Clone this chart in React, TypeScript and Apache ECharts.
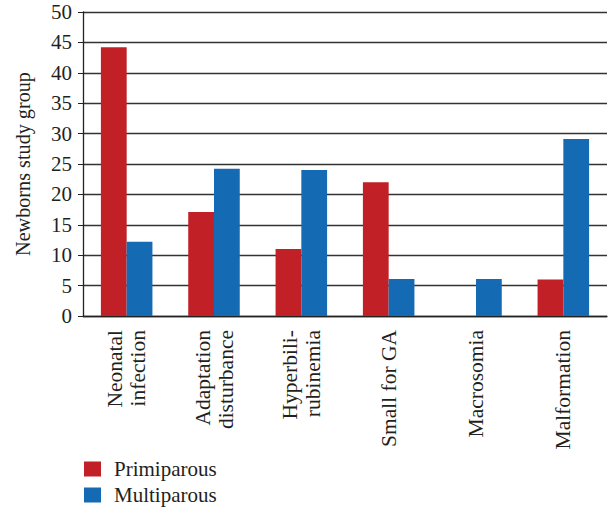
import React, { useEffect, useRef } from "react";
import * as echarts from "echarts";

const categories = [
  "Neonatal\ninfection",
  "Adaptation\ndisturbance",
  "Hyperbili-\nrubinemia",
  "Small for GA",
  "Macrosomia",
  "Malformation",
];
const primiparous = [44.2, 17.1, 11, 22, 0, 6];
const multiparous = [12.2, 24.2, 24, 6.1, 6.1, 29.1];
const seriesNames = ["Primiparous", "Multiparous"];
const FONT = "Liberation Serif";
const INK = "#231f20";

export default function App() {
  const ref = useRef<HTMLDivElement>(null);
  useEffect(() => {
    document.body.style.margin = "0";
    const chart = echarts.init(ref.current!, null, { renderer: "svg" });
    chart.setOption({
      animation: false,
      textStyle: { fontFamily: FONT, color: INK },
      grid: { left: 83, right: 1, top: 12, bottom: 191, containLabel: false },
      legend: {
        orient: "vertical",
        left: 84,
        top: 458,
        height: 49,
        padding: 0,
        icon: "rect",
        itemWidth: 17,
        itemHeight: 15,
        itemGap: 4,
        data: seriesNames,
        textStyle: { fontFamily: FONT, fontSize: 21, lineHeight: 22, color: INK, padding: [0, 0, 0, 8] },
      },
      xAxis: {
        type: "category",
        data: categories,
        axisLine: { lineStyle: { color: "#222", width: 1.3 } },
        axisTick: { show: false },
        axisLabel: {
          rotate: 90,
          interval: 0,
          margin: 14,
          fontFamily: FONT,
          fontSize: 21.5,
          lineHeight: 23,
          color: INK,
        },
      },
      yAxis: {
        type: "value",
        min: 0,
        max: 50,
        interval: 5,
        name: "Newborns study group",
        nameLocation: "middle",
        nameGap: 50,
        nameTextStyle: { fontFamily: FONT, fontSize: 20.2, color: INK },
        axisLine: { show: true, lineStyle: { color: "#222", width: 1.3 } },
        axisTick: { show: true, length: 5, lineStyle: { color: "#222" } },
        axisLabel: { margin: 11, fontFamily: FONT, fontSize: 21, color: INK },
        splitLine: { lineStyle: { color: "#333", width: 1.3 } },
      },
      series: [
        {
          name: seriesNames[0],
          type: "bar",
          data: primiparous,
          barWidth: "29.5%",
          barGap: "0%",
          itemStyle: { color: "#c02026" },
        },
        {
          name: seriesNames[1],
          type: "bar",
          data: multiparous,
          barWidth: "29.5%",
          barGap: "0%",
          itemStyle: { color: "#156bb3" },
        },
      ],
    });
    return () => chart.dispose();
  }, []);
  return <div ref={ref} style={{ width: 608, height: 507 }} />;
}
